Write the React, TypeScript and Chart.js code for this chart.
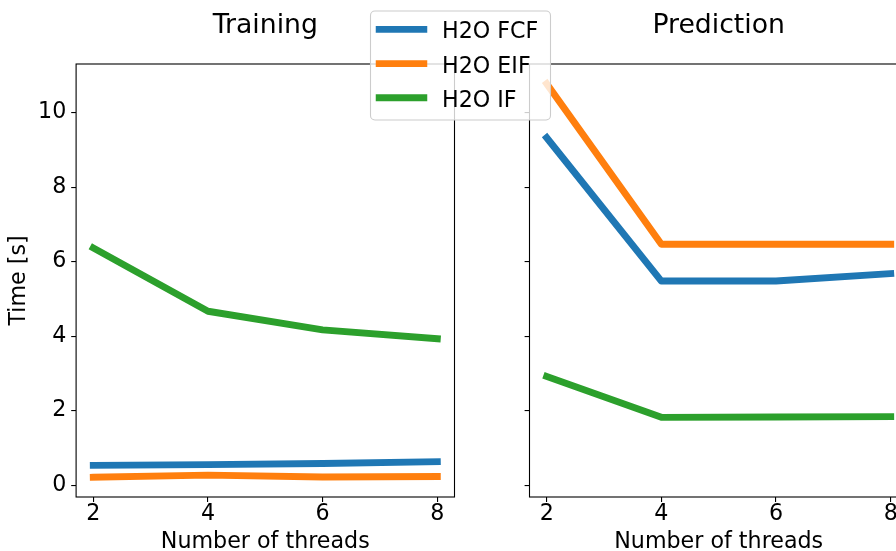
import React, { useEffect, useRef } from "react";
import { Chart, registerables } from "chart.js";

Chart.register(...registerables);

// Thread counts on the x axis
const threads = [2, 4, 6, 8];

// Training time [s]
const trainFCF = [0.53, 0.55, 0.58, 0.63];
const trainEIF = [0.21, 0.27, 0.22, 0.23];
const trainIF = [6.37, 4.67, 4.17, 3.93];

// Prediction time [s]
const predFCF = [9.33, 5.48, 5.48, 5.68];
const predEIF = [10.78, 6.47, 6.47, 6.47];
const predIF = [2.92, 1.82, 1.83, 1.84];

const seriesNames = ["H2O FCF", "H2O EIF", "H2O IF"];
const seriesColors = ["#1f77b4", "#ff7f0e", "#2ca02c"];
const yTickValues = [0, 2, 4, 6, 8, 10];
const xTickValues = [2, 4, 6, 8];
const panelTitles = ["Training", "Prediction"];
const xAxisLabel = "Number of threads";
const yAxisLabel = "Time [s]";

const FONT = "'DejaVu Sans', sans-serif";
const TICK_PX = 22.2;
const TITLE_PX = 26.7;
const LINE_W = 6.9;
const TICK_LEN = 4.9;

const CANVAS_H = 560;
const AREA_TOP = 64;
const AREA_BOTTOM = 497;

// matplotlib-like autoscale: data range plus 5% on each side
function paddedRange(values: number[]): [number, number] {
  const lo = Math.min(...values);
  const hi = Math.max(...values);
  const pad = (hi - lo) * 0.05;
  return [lo - pad, hi + pad];
}

const [Y_MIN, Y_MAX] = paddedRange([
  ...trainFCF, ...trainEIF, ...trainIF, ...predFCF, ...predEIF, ...predIF,
]);
const [X_MIN, X_MAX] = paddedRange(threads);

type Panel = {
  series: number[][];
  title: string;
  canvasWidth: number;
  areaLeft: number;
  areaRight: number;
  yAxisWidth: number;
  showYLabels: boolean;
  legend: boolean;
};

// Full box around the axes area (all four spines)
const framePlugin = {
  id: "frame",
  afterDatasetsDraw(chart: any) {
    const { ctx, chartArea: a } = chart;
    ctx.save();
    ctx.strokeStyle = "#000";
    ctx.lineWidth = 1.1;
    ctx.strokeRect(a.left, a.top, a.right - a.left, a.bottom - a.top);
    ctx.restore();
  },
};

function panelTitlePlugin(text: string) {
  return {
    id: "panelTitle",
    afterDraw(chart: any) {
      const { ctx, chartArea: a } = chart;
      ctx.save();
      ctx.fillStyle = "#000";
      ctx.font = `${TITLE_PX}px ${FONT}`;
      ctx.textAlign = "center";
      ctx.textBaseline = "alphabetic";
      ctx.fillText(text, (a.left + a.right) / 2, 32.5);
      ctx.restore();
    },
  };
}

// Figure legend box that sits across both panels
const legendPlugin = {
  id: "figureLegend",
  afterDraw(chart: any) {
    const { ctx } = chart;
    const box = { x: 370.5, y: 11, w: 180, h: 109, r: 4.4 };
    ctx.save();
    ctx.beginPath();
    ctx.roundRect(box.x, box.y, box.w, box.h, box.r);
    ctx.fillStyle = "rgba(255,255,255,0.8)";
    ctx.fill();
    ctx.strokeStyle = "#cccccc";
    ctx.lineWidth = 1.1;
    ctx.stroke();
    const rowY0 = 29.4;
    const rowStep = 34.2;
    chart.data.datasets.forEach((ds: any, i: number) => {
      const y = rowY0 + rowStep * i;
      ctx.beginPath();
      ctx.moveTo(379.2, y);
      ctx.lineTo(423.8, y);
      ctx.strokeStyle = ds.borderColor;
      ctx.lineWidth = LINE_W;
      ctx.lineCap = "square";
      ctx.stroke();
      ctx.fillStyle = "#000";
      ctx.font = `${TICK_PX}px ${FONT}`;
      ctx.textAlign = "left";
      ctx.textBaseline = "alphabetic";
      ctx.fillText(ds.label, 442, y + 9);
    });
    ctx.restore();
  },
};

function buildChart(canvas: HTMLCanvasElement, p: Panel) {
  const datasets = p.series.map((vals, i) => ({
    label: seriesNames[i],
    data: threads.map((x, j) => ({ x, y: vals[j] })),
    borderColor: seriesColors[i],
    backgroundColor: seriesColors[i],
    borderWidth: LINE_W,
    borderCapStyle: "square" as const,
    borderJoinStyle: "round" as const,
    pointRadius: 0,
    pointHoverRadius: 0,
    tension: 0,
    fill: false,
    clip: 0,
    order: p.series.length - i,
  }));

  const tickGrid = {
    display: true,
    drawOnChartArea: false,
    drawTicks: true,
    tickLength: TICK_LEN,
    tickColor: "#000",
    tickWidth: 1.1,
    color: "rgba(0,0,0,0)",
    lineWidth: 1.1,
  };

  const tickFont = { family: FONT, size: TICK_PX, lineHeight: 1 };
  const labelFont = { family: FONT, size: TICK_PX, lineHeight: 1.2 };

  return new Chart(canvas, {
    type: "line",
    data: { datasets },
    options: {
      animation: false,
      responsive: false,
      maintainAspectRatio: false,
      devicePixelRatio: 1,
      events: [],
      layout: {
        autoPadding: false,
        padding: {
          left: p.areaLeft - p.yAxisWidth,
          right: p.canvasWidth - p.areaRight,
          top: AREA_TOP,
          bottom: 0,
        },
      },
      plugins: {
        legend: { display: false },
        tooltip: { enabled: false },
        title: { display: false },
      },
      scales: {
        x: {
          type: "linear",
          min: X_MIN,
          max: X_MAX,
          grid: tickGrid,
          border: { display: false },
          afterBuildTicks: (s: any) => {
            s.ticks = xTickValues.map((v) => ({ value: v }));
          },
          afterFit: (s: any) => {
            s.height = CANVAS_H - AREA_BOTTOM;
          },
          ticks: {
            color: "#000",
            font: tickFont,
            padding: 0.8,
            autoSkip: false,
            maxRotation: 0,
            minRotation: 0,
            callback: (v: any) => String(v),
          },
          title: {
            display: true,
            text: xAxisLabel,
            color: "#000",
            font: labelFont,
            padding: { top: 0, bottom: 4.9 },
          },
        },
        y: {
          type: "linear",
          min: Y_MIN,
          max: Y_MAX,
          grid: tickGrid,
          border: { display: false },
          afterBuildTicks: (s: any) => {
            s.ticks = yTickValues.map((v) => ({ value: v }));
          },
          afterFit: (s: any) => {
            s.width = p.yAxisWidth;
          },
          ticks: {
            display: p.showYLabels,
            color: "#000",
            font: tickFont,
            padding: 4.9,
            autoSkip: false,
            callback: (v: any) => String(v),
          },
          title: {
            display: p.showYLabels,
            text: yAxisLabel,
            color: "#000",
            font: labelFont,
            padding: { top: 6, bottom: 0 },
          },
        },
      },
    } as any,
    plugins: [framePlugin, panelTitlePlugin(p.title), ...(p.legend ? [legendPlugin] : [])],
  });
}

export default function App() {
  const leftRef = useRef<HTMLCanvasElement>(null);
  const rightRef = useRef<HTMLCanvasElement>(null);

  useEffect(() => {
    const right = buildChart(rightRef.current!, {
      series: [predFCF, predEIF, predIF],
      title: panelTitles[1],
      canvasWidth: 1000,
      areaLeft: 529.5,
      areaRight: 907.9,
      yAxisWidth: 20,
      showYLabels: false,
      legend: false,
    });
    const left = buildChart(leftRef.current!, {
      series: [trainFCF, trainEIF, trainIF],
      title: panelTitles[0],
      canvasWidth: 896,
      areaLeft: 76.1,
      areaRight: 454.5,
      yAxisWidth: 76.1,
      showYLabels: true,
      legend: true,
    });
    return () => {
      left.destroy();
      right.destroy();
    };
  }, []);

  return (
    <div
      style={{
        position: "fixed",
        left: 0,
        top: 0,
        width: 896,
        height: 551,
        overflow: "hidden",
        background: "#fff",
      }}
    >
      <canvas
        ref={rightRef}
        width={1000}
        height={CANVAS_H}
        style={{ position: "absolute", left: 0, top: 0, width: 1000, height: CANVAS_H }}
      />
      <canvas
        ref={leftRef}
        width={896}
        height={CANVAS_H}
        style={{ position: "absolute", left: 0, top: 0, width: 896, height: CANVAS_H }}
      />
    </div>
  );
}
